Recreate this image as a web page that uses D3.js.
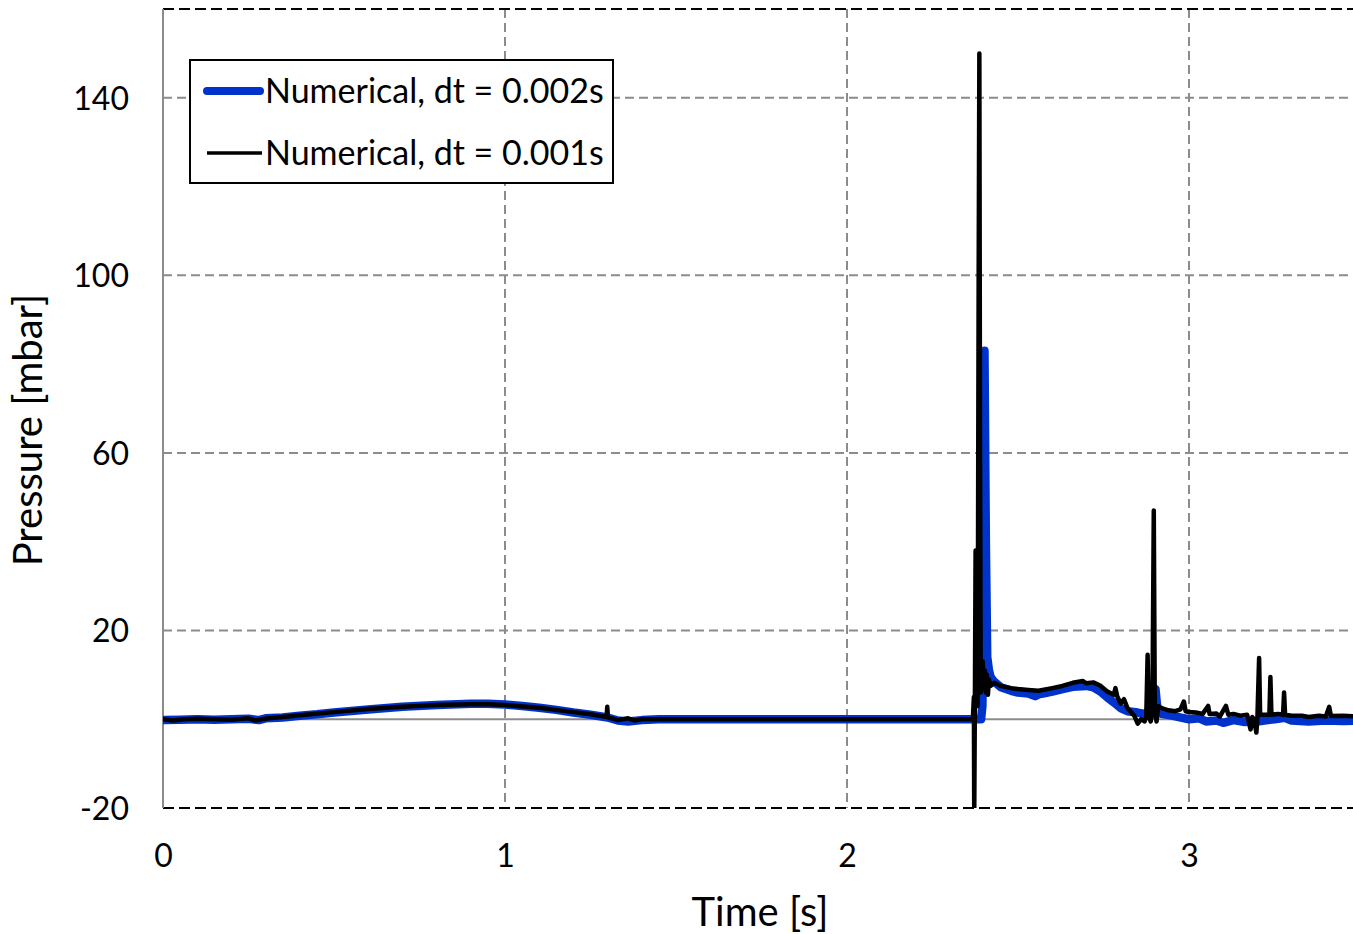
<!DOCTYPE html>
<html>
<head>
<meta charset="utf-8">
<script src="https://cdn.jsdelivr.net/npm/d3@7"></script>
<style>
body { margin: 0; background: #fff; }
svg text { font-family: Lato, "Open Sans", sans-serif; }
.tick text { font-size: 32px; fill: #000; font-family: Lato, "Open Sans", sans-serif; }
</style>
</head>
<body>
<svg width="1353" height="934"></svg>
<script>
// data (time in s, pressure in mbar)
var blueT = [0,0.05,0.1,0.15,0.2,0.25,0.28,0.3,0.35,0.4,0.45,0.5,0.6,0.7,0.8,0.9,0.95,1.0,1.05,1.1,1.15,1.2,1.25,1.3,1.33,1.36,1.4,1.45,1.6,2.0,2.3,2.392,2.396,2.399,2.402,2.406,2.41,2.415,2.42,2.43,2.45,2.48,2.5,2.53,2.55,2.56,2.58,2.6,2.63,2.66,2.7,2.72,2.74,2.76,2.78,2.8,2.82,2.85,2.87,2.885,2.895,2.902,2.908,2.92,2.95,2.98,3.0,3.03,3.05,3.08,3.1,3.13,3.16,3.2,3.25,3.28,3.3,3.35,3.4,3.45,3.5];
var blueP = [-0.2,-0.1,0,-0.1,0,0.1,-0.2,0.2,0.4,0.8,1.1,1.5,2.2,2.8,3.2,3.5,3.5,3.3,3.0,2.6,2.1,1.5,1.0,0.4,-0.3,-0.5,-0.2,0,0,0,0,0,3,40,83,40,14,11,9.5,8.5,7.2,6.4,6,5.8,5.2,5.6,5.9,6.2,6.8,7.3,7.5,7.2,6.3,5,3.8,2.5,1.8,1.5,1.2,2,6.5,6.8,2,1.2,0.8,0.3,0,0.2,-0.5,-0.3,-0.8,-0.2,-0.6,-0.5,0,0.3,-0.3,-0.5,-0.3,-0.4,-0.3];

var blackT = [0,0.03,0.06,0.1,0.15,0.2,0.25,0.27,0.29,0.31,0.35,0.4,0.5,0.6,0.7,0.8,0.9,0.95,1.0,1.1,1.2,1.25,1.29,1.297,1.299,1.301,1.33,1.36,1.38,1.4,1.6,2.0,2.368,2.371,2.372,2.374,2.376,2.378,2.382,2.385,2.387,2.389,2.391,2.394,2.397,2.4,2.403,2.406,2.409,2.412,2.415,2.42,2.43,2.45,2.48,2.5,2.53,2.56,2.6,2.63,2.66,2.69,2.7,2.72,2.74,2.76,2.78,2.785,2.79,2.8,2.81,2.82,2.84,2.85,2.86,2.87,2.875,2.879,2.882,2.888,2.893,2.897,2.9,2.905,2.91,2.92,2.94,2.96,2.975,2.985,2.99,3.0,3.02,3.04,3.056,3.06,3.08,3.09,3.108,3.115,3.13,3.15,3.17,3.18,3.185,3.19,3.197,3.2,3.205,3.208,3.22,3.235,3.238,3.241,3.26,3.275,3.278,3.281,3.3,3.33,3.35,3.38,3.4,3.41,3.415,3.45,3.5];
var blackP = [0,-0.3,0,0.1,0,-0.1,0.2,-0.3,0,0.2,0.5,0.9,1.6,2.3,2.8,3.2,3.4,3.4,3.2,2.6,1.6,1.1,0.6,0.5,2.8,0.4,-0.2,0.2,-0.3,0,0,0,0,5,-22,5,38,5,3,100,150,60,6,8,13,7,11,6,10,5.5,9,7.5,8.2,7.5,7,6.8,6.6,6.4,7,7.5,8.2,8.6,8.1,8.3,7.6,6.3,5.5,7,5.2,3.5,4.5,2.5,0.8,-1,0,-0.5,0.5,14.5,0.8,-0.5,2,47,2,-0.5,3,2.5,2,1.8,2.2,4,1.8,1.6,1.5,1.2,3,1.2,1.3,0.6,3,1,1.2,0.8,1,-2.3,0.5,0,-3,0.3,13.8,1,1,1,9.5,1,1.2,1,6,1,0.8,0.8,0.5,0.8,0.6,2.8,0.7,0.8,0.6];

var seriesNames = ["Numerical, dt = 0.002s", "Numerical, dt = 0.001s"];
var yTicks = [-20, 20, 60, 100, 140];
var xTicks = [0, 1, 2, 3];

var svg = d3.select("svg"),
    pLeft = 163, pTop = 9, pBottom = 808, pRight = 1353;

var x = d3.scaleLinear().domain([0, 3.5]).range([pLeft, 1360]);
var y = d3.scaleLinear().domain([-20, 160]).range([pBottom, pTop]);

svg.append("defs").append("clipPath").attr("id", "plot")
    .append("rect").attr("x", pLeft).attr("y", pTop).attr("width", pRight - pLeft).attr("height", pBottom - pTop);

// grid
svg.append("g").selectAll("line").data(yTicks.filter(function(d) { return d > -20; }))
    .enter().append("line")
    .attr("x1", pLeft).attr("x2", pRight)
    .attr("y1", function(d) { return y(d); }).attr("y2", function(d) { return y(d); })
    .attr("stroke", "#8c8c8c").attr("stroke-width", 2).attr("stroke-dasharray", "9,5");
svg.append("g").selectAll("line").data(xTicks.filter(function(d) { return d > 0; }))
    .enter().append("line")
    .attr("x1", function(d) { return x(d); }).attr("x2", function(d) { return x(d); })
    .attr("y1", pTop).attr("y2", pBottom)
    .attr("stroke", "#8c8c8c").attr("stroke-width", 2).attr("stroke-dasharray", "9,5");

// plot border top/bottom
[pTop, pBottom].forEach(function(yy) {
    svg.append("line").attr("x1", pLeft).attr("x2", pRight).attr("y1", yy).attr("y2", yy)
        .attr("stroke", "#000").attr("stroke-width", 2).attr("stroke-dasharray", "11,5");
});

// zero line and left axis
svg.append("line").attr("x1", pLeft).attr("x2", pRight).attr("y1", y(0)).attr("y2", y(0))
    .attr("stroke", "#8c8c8c").attr("stroke-width", 2);
svg.append("line").attr("x1", pLeft).attr("x2", pLeft).attr("y1", pTop).attr("y2", pBottom)
    .attr("stroke", "#8c8c8c").attr("stroke-width", 2);

var line = d3.line().x(function(d) { return x(d[0]); }).y(function(d) { return y(d[1]); });

var plot = svg.append("g").attr("clip-path", "url(#plot)");
plot.append("path")
    .datum(d3.zip(blueT, blueP))
    .attr("d", line)
    .attr("fill", "none").attr("stroke", "#0033cc").attr("stroke-width", 8.5)
    .attr("stroke-linejoin", "round").attr("stroke-linecap", "round");
plot.append("path")
    .datum(d3.zip(blackT, blackP))
    .attr("d", line)
    .attr("fill", "none").attr("stroke", "#000").attr("stroke-width", 4.5)
    .attr("stroke-linejoin", "round").attr("stroke-linecap", "round");

// axes
svg.append("g")
    .attr("transform", "translate(" + (pLeft - 34) + ",0)")
    .call(d3.axisLeft(y).tickValues(yTicks).tickSize(0).tickPadding(0).tickFormat(String))
    .call(function(g) { g.select(".domain").remove(); })
    .selectAll("text").attr("dy", "0.36em");

svg.append("g")
    .attr("transform", "translate(0," + pBottom + ")")
    .call(d3.axisBottom(x).tickValues(xTicks).tickSize(0).tickPadding(36).tickFormat(String))
    .call(function(g) { g.select(".domain").remove(); });

svg.append("text")
    .attr("x", 760).attr("y", 926)
    .attr("text-anchor", "middle")
    .style("font-size", "40px")
    .text("Time [s]");

svg.append("text")
    .attr("transform", "translate(42,430) rotate(-90)")
    .attr("text-anchor", "middle")
    .style("font-size", "40px")
    .text("Pressure [mbar]");

// legend
var legend = svg.append("g");
legend.append("rect")
    .attr("x", 190).attr("y", 60).attr("width", 423).attr("height", 123)
    .attr("fill", "#fff").attr("stroke", "#000").attr("stroke-width", 2);
legend.append("line").attr("x1", 207).attr("x2", 260).attr("y1", 91).attr("y2", 91)
    .attr("stroke", "#0033cc").attr("stroke-width", 8).attr("stroke-linecap", "round");
legend.append("line").attr("x1", 207).attr("x2", 262).attr("y1", 153).attr("y2", 153)
    .attr("stroke", "#000").attr("stroke-width", 3.5);
legend.selectAll(".lt").data(seriesNames).enter().append("text")
    .attr("class", "lt")
    .attr("x", 265)
    .attr("y", function(d, i) { return 103 + i * 62; })
    .style("font-size", "34px")
    .text(function(d) { return d; });
</script>
</body>
</html>
